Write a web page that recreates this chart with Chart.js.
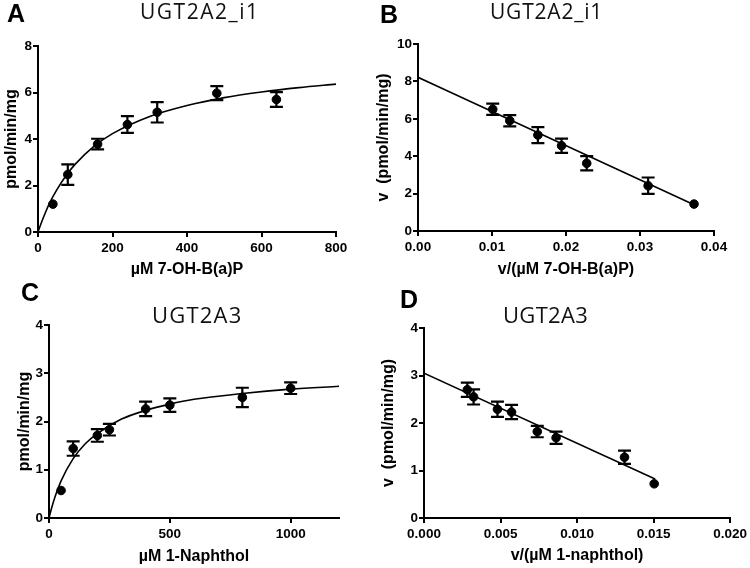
<!DOCTYPE html>
<html>
<head>
<meta charset="utf-8">
<script src="https://cdn.jsdelivr.net/npm/chart.js@4.4.0/dist/chart.umd.min.js"></script>
<style>
  body { margin: 0; background: #fff; }
  #wrap { position: relative; width: 750px; height: 568px; overflow: hidden; background: #fff; }
  canvas, .lbl, .ttl { position: absolute; }
  .lbl { font: bold 25px 'Liberation Sans', Arial, sans-serif; line-height: 1; color: #000; }
  .ttl { font-family: 'Open Sans', sans-serif; font-weight: 400; line-height: 1; color: #111; white-space: nowrap; }
</style>
</head>
<body>
<div id="wrap">
  <canvas id="chartA" width="375" height="284" style="left:0;top:0"></canvas>
  <canvas id="chartB" width="385" height="284" style="left:365px;top:0"></canvas>
  <canvas id="chartC" width="375" height="284" style="left:0;top:284px"></canvas>
  <canvas id="chartD" width="385" height="284" style="left:365px;top:284px"></canvas>
  <div class="lbl" style="left:7px;top:1px">A</div>
  <div class="lbl" style="left:380px;top:2px">B</div>
  <div class="lbl" style="left:21px;top:280px">C</div>
  <div class="lbl" style="left:400px;top:287px">D</div>
  <div class="ttl" style="left:140px;top:1px;font-size:21px;letter-spacing:1.5px">UGT2A2_i1</div>
  <div class="ttl" style="left:490px;top:1px;font-size:21px;letter-spacing:0.8px">UGT2A2_i1</div>
  <div class="ttl" style="left:152px;top:303px;font-size:22px;letter-spacing:1.2px">UGT2A3</div>
  <div class="ttl" style="left:503px;top:303px;font-size:22px;letter-spacing:0.3px">UGT2A3</div>
</div>
<script>
// A: UGT2A2_i1 vs 7-OH-B(a)P (Michaelis-Menten)
const aConc = [40, 80, 160, 240, 320, 480, 640];
const aRate = [1.2, 2.47, 3.78, 4.62, 5.15, 5.97, 5.7];
const aSem = [0, 0.44, 0.23, 0.36, 0.44, 0.3, 0.32];
const aFitX = [0, 10, 20, 30, 50, 75, 100, 150, 200, 300, 400, 500, 600, 700, 800];
const aFitY = [0, 0.44, 0.84, 1.21, 1.8, 2.42, 2.92, 3.68, 4.23, 4.97, 5.44, 5.78, 6.02, 6.21, 6.36];
const aXTicks = [0, 200, 400, 600, 800];
const aYTicks = [0, 2, 4, 6, 8];

// B: UGT2A2_i1 Eadie-Hofstee
const bX = [0.0101, 0.0124, 0.0162, 0.0194, 0.0228, 0.0311, 0.0373];
const bV = [6.51, 5.9, 5.13, 4.56, 3.62, 2.42, 1.44];
const bSem = [0.3, 0.3, 0.43, 0.38, 0.38, 0.44, 0];
const bFitX = [0, 0.0373];
const bFitY = [8.22, 1.4];
const bXTicks = [0, 0.01, 0.02, 0.03, 0.04];
const bYTicks = [0, 2, 4, 6, 8, 10];

// C: UGT2A3 vs 1-naphthol
const cConc = [50, 100, 200, 250, 400, 500, 800, 1000];
const cRate = [0.57, 1.44, 1.71, 1.83, 2.26, 2.34, 2.5, 2.69];
const cSem = [0, 0.15, 0.13, 0.12, 0.15, 0.14, 0.2, 0.12];
const cFitX = [0, 10, 25, 50, 100, 150, 200, 300, 400, 500, 600, 800, 1000, 1200];
const cFitY = [0, 0.19, 0.44, 0.77, 1.23, 1.54, 1.75, 2.05, 2.23, 2.36, 2.46, 2.58, 2.67, 2.73];
const cXTicks = [0, 500, 1000];
const cYTicks = [0, 1, 2, 3, 4];

// D: UGT2A3 Eadie-Hofstee
const dX = [0.00283, 0.00324, 0.0048, 0.00572, 0.0074, 0.00863, 0.0131, 0.01504];
const dV = [2.70, 2.55, 2.29, 2.23, 1.82, 1.69, 1.28, 0.72];
const dSem = [0.15, 0.16, 0.16, 0.15, 0.12, 0.13, 0.14, 0];
const dFitX = [0, 0.0151];
const dFitY = [3.05, 0.82];
const dXTicks = [0, 0.005, 0.01, 0.015, 0.02];
const dYTicks = [0, 1, 2, 3, 4];

const tickFont = { family: "'Liberation Sans', Arial, sans-serif", size: 13.5, weight: 'bold' };
const titleFont = { family: "'Liberation Sans', Arial, sans-serif", size: 16, weight: 'bold' };

// vertical error bars with caps
const errorBars = {
  id: 'errorBars',
  afterDatasetsDraw(chart) {
    const { ctx, scales: { x, y } } = chart;
    chart.data.datasets.forEach(ds => {
      if (!ds.sem) return;
      ctx.save();
      ctx.strokeStyle = '#000';
      ctx.lineWidth = 2.2;
      ds.data.forEach((p, i) => {
        const e = ds.sem[i];
        if (!e) return;
        const px = x.getPixelForValue(p.x);
        const top = y.getPixelForValue(p.y + e);
        const bot = y.getPixelForValue(p.y - e);
        ctx.beginPath();
        ctx.moveTo(px, top); ctx.lineTo(px, bot);
        ctx.moveTo(px - 6.5, top); ctx.lineTo(px + 6.5, top);
        ctx.moveTo(px - 6.5, bot); ctx.lineTo(px + 6.5, bot);
        ctx.stroke();
      });
      ctx.restore();
    });
  }
};

function axis(ticks, digits, title, size, titlePad, horizontal) {
  return {
    type: 'linear',
    min: ticks[0],
    max: horizontal && title.indexOf('Naphthol') > -1 ? 1200 : ticks[ticks.length - 1],
    afterBuildTicks: s => { s.ticks = ticks.map(v => ({ value: v })); },
    afterFit: s => { if (horizontal) s.height = size; else s.width = size; },
    border: { display: true, color: '#000', width: 2 },
    grid: { drawOnChartArea: false, drawTicks: true, tickLength: 5, color: '#000', lineWidth: 2, tickColor: '#000', tickWidth: 2 },
    ticks: { color: '#000', font: tickFont, padding: horizontal ? 3 : 1, callback: v => v.toFixed(digits) },
    title: { display: true, text: title, color: '#000', font: titleFont, padding: titlePad }
  };
}

function panel(id, xs, ys, sem, fx, fy, xAxis, yAxis, pad) {
  new Chart(document.getElementById(id), {
    type: 'scatter',
    data: {
      datasets: [
        {
          data: xs.map((v, i) => ({ x: v, y: ys[i] })),
          sem: sem,
          pointRadius: 4.3,
          pointBackgroundColor: '#000',
          pointBorderColor: '#000',
          showLine: false
        },
        {
          data: fx.map((v, i) => ({ x: v, y: fy[i] })),
          showLine: true,
          pointRadius: 0,
          borderColor: '#000',
          borderWidth: 1.6,
          cubicInterpolationMode: 'monotone'
        }
      ]
    },
    options: {
      responsive: false,
      animation: false,
      events: [],
      layout: { padding: pad },
      plugins: { legend: { display: false }, tooltip: { enabled: false } },
      scales: { x: xAxis, y: yAxis }
    },
    plugins: [errorBars]
  });
}

panel('chartA', aConc, aRate, aSem, aFitX, aFitY,
  axis(aXTicks, 0, 'µM 7-OH-B(a)P', 52, { top: 0, bottom: 4.5 }, true),
  axis(aYTicks, 0, 'pmol/min/mg', 38, { top: 2, bottom: 0 }, false),
  { left: 0, right: 39, top: 46, bottom: 0 });

panel('chartB', bX, bV, bSem, bFitX, bFitY,
  axis(bXTicks, 2, 'v/(µM 7-OH-B(a)P)', 53, { top: 0, bottom: 4.5 }, true),
  axis(bYTicks, 0, 'v  (pmol/min/mg)', 53, { top: 8.5, bottom: 0 }, false),
  { left: 0, right: 36, top: 44, bottom: 0 });

panel('chartC', cConc, cRate, cSem, cFitX, cFitY,
  axis(cXTicks, 0, 'µM 1-Naphthol', 50, { top: 0, bottom: 1.5 }, true),
  axis(cYTicks, 0, 'pmol/min/mg', 49, { top: 15, bottom: 0 }, false),
  { left: 0, right: 36, top: 41, bottom: 0 });

panel('chartD', dX, dV, dSem, dFitX, dFitY,
  axis(dXTicks, 3, 'v/(µM 1-naphthol)', 50, { top: 0, bottom: 2.5 }, true),
  axis(dYTicks, 0, 'v  (pmol/min/mg)', 59, { top: 14, bottom: 0 }, false),
  { left: 0, right: 19, top: 44, bottom: 0 });
</script>
</body>
</html>
